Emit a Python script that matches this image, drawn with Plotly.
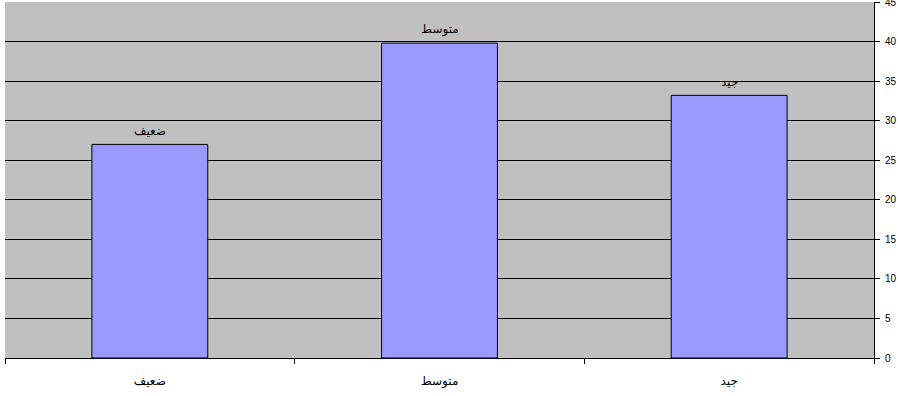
import plotly.graph_objects as go

categories = ["ضعيف", "متوسط", "جيد"]
values = [27.0, 39.8, 33.2]
y_ticks = [0, 5, 10, 15, 20, 25, 30, 35, 40, 45]

font_family = "Arial, Liberation Sans, DejaVu Sans, sans-serif"

fig = go.Figure(
    go.Bar(
        x=categories,
        y=values,
        marker=dict(color="#9999FF", line=dict(color="black", width=1)),
        width=0.4,
        cliponaxis=False,
    )
)

# Category names written above each bar
for cat, val in zip(categories, values):
    fig.add_annotation(
        x=cat,
        y=val,
        text=cat,
        showarrow=False,
        yanchor="bottom",
        yshift=4,
        font=dict(family=font_family, size=12, color="black"),
    )

fig.update_layout(
    width=898,
    height=396,
    margin=dict(l=5, r=24, t=2, b=38),
    paper_bgcolor="white",
    plot_bgcolor="#C0C0C0",
    showlegend=False,
    font=dict(family=font_family, size=11, color="black"),
    xaxis=dict(
        type="category",
        range=[-0.5, 2.5],
        automargin=False,
        showline=True,
        linecolor="black",
        linewidth=1,
        ticks="outside",
        tickson="boundaries",
        ticklen=5,
        tickcolor="black",
        ticklabelstandoff=12,
        showgrid=False,
        tickfont=dict(family=font_family, size=12, color="black"),
    ),
    yaxis=dict(
        side="right",
        range=[0, 45],
        tickvals=y_ticks,
        automargin=False,
        showline=True,
        linecolor="black",
        linewidth=1,
        ticks="outside",
        ticklen=5,
        tickcolor="black",
        ticklabelstandoff=3,
        ticklabeloverflow="allow",
        showgrid=True,
        gridcolor="black",
        gridwidth=1,
        zeroline=False,
        tickfont=dict(family=font_family, size=10, color="black"),
    ),
)

fig.write_html("out.html")
